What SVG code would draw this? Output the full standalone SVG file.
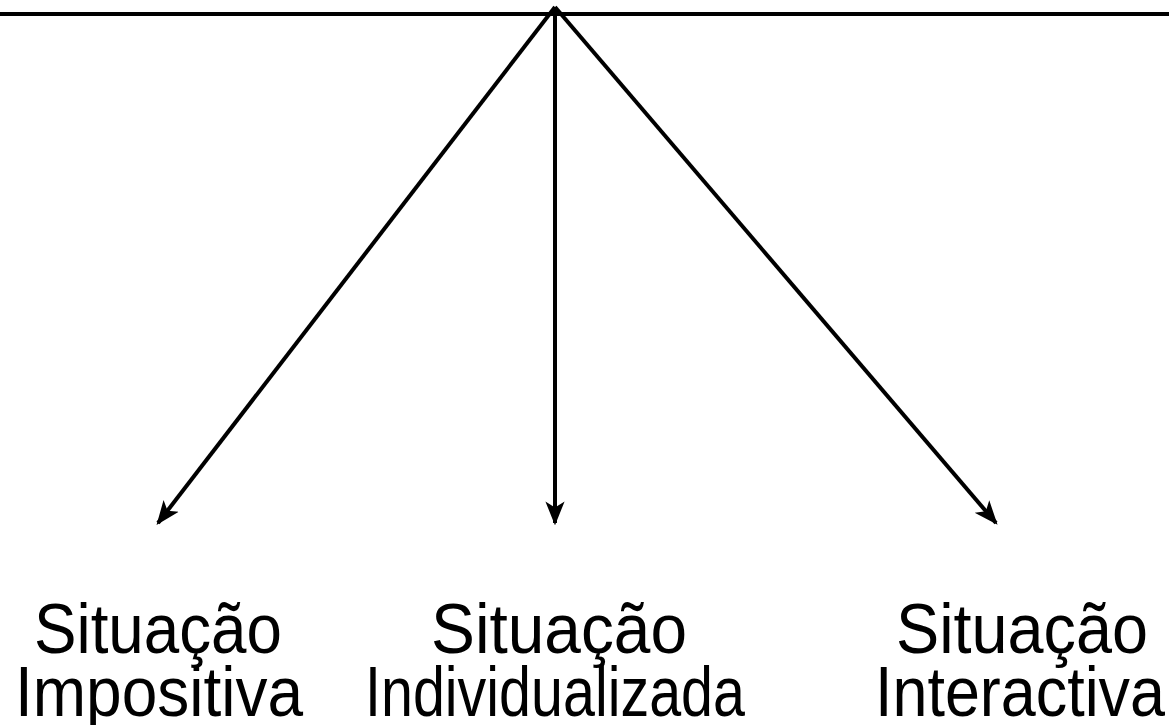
<svg xmlns="http://www.w3.org/2000/svg" width="1169" height="725" viewBox="0 0 1169 725">
<style>
.ln{stroke:#000;stroke-width:4;fill:none}
.lbl{font-family:"Liberation Sans",Arial,sans-serif;font-size:71px;fill:#000;text-anchor:middle}
</style>
<defs>
<marker id="ah" viewBox="0 0 20 20" refX="18" refY="10" markerWidth="24" markerHeight="24" markerUnits="userSpaceOnUse" orient="auto">
<path d="M0,2 L20,10 L0,18 L5,10 Z" fill="#000"/>
</marker>
</defs>
<rect width="1169" height="725" fill="#fff"/>
<g id="connectors">
<line class="ln" x1="0" y1="14" x2="1169" y2="14"/>
<line class="ln" x1="555" y1="7" x2="158" y2="523" marker-end="url(#ah)"/>
<line class="ln" x1="555" y1="7" x2="555" y2="523" marker-end="url(#ah)"/>
<line class="ln" x1="555" y1="7" x2="996" y2="523" marker-end="url(#ah)"/>
</g>
<g id="node-impositiva">
<text class="lbl" x="158" y="653" textLength="248" lengthAdjust="spacingAndGlyphs">Situação</text>
<text class="lbl" x="159" y="716" textLength="288" lengthAdjust="spacingAndGlyphs">Impositiva</text>
</g>
<g id="node-individualizada">
<text class="lbl" x="559" y="653" textLength="256" lengthAdjust="spacingAndGlyphs">Situação</text>
<text class="lbl" x="555" y="716" textLength="380" lengthAdjust="spacingAndGlyphs">Individualizada</text>
</g>
<g id="node-interactiva">
<text class="lbl" x="1022" y="653" textLength="252" lengthAdjust="spacingAndGlyphs">Situação</text>
<text class="lbl" x="1020" y="716" textLength="290" lengthAdjust="spacingAndGlyphs">Interactiva</text>
</g>
</svg>
